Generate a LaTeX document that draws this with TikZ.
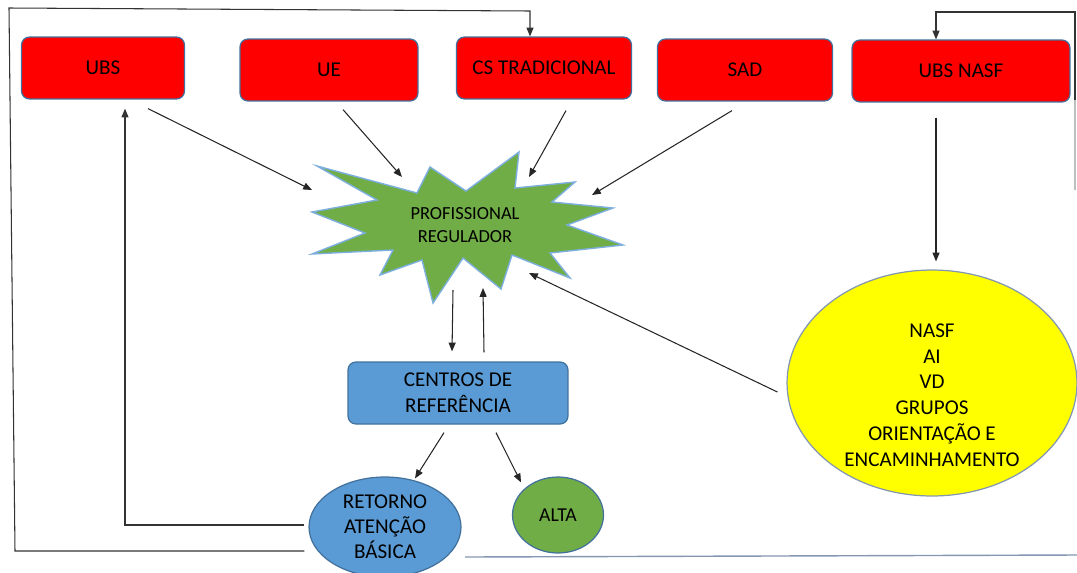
\documentclass[tikz,border=0pt]{standalone}
\usepackage{fontspec}
\setmainfont{Carlito}
\usetikzlibrary{arrows.meta,shapes.geometric,calc}

\definecolor{boxred}{HTML}{FF0000}
\definecolor{edgeblue}{HTML}{41719C}
\definecolor{refblue}{HTML}{5B9BD5}
\definecolor{leafgreen}{HTML}{70AD47}
\definecolor{brightyellow}{HTML}{FFFF00}
\definecolor{linegray}{HTML}{8497B0}

\tikzset{
	unit/.style={draw=edgeblue, line width=0.7pt, fill=boxred, rounded corners=4.5pt,
		minimum height=1.24cm, inner sep=0pt, font=\fontsize{12}{14.7}\selectfont},
	refbox/.style={draw=edgeblue, line width=0.7pt, fill=refblue, rounded corners=4.5pt,
		align=center, inner sep=0pt, font=\fontsize{12}{14.7}\selectfont},
	blob/.style={ellipse, draw=edgeblue, line width=0.7pt, inner sep=0pt, align=center},
	link/.style={-{Triangle[length=5pt,width=4pt]}, line width=0.6pt, black!85},
	loopline/.style={line width=0.6pt, black!80}
}

\begin{document}
\begin{tikzpicture}[x=0.02cm, y=-0.02cm]
		
		\useasboundingbox (0,0) rectangle (1077,572);
		
		% services at the top
		\node [unit, minimum width=3.26cm] (ubs) at (103,68) {UBS};
		\node [unit, minimum width=3.56cm] (ue) at (329,70) {UE};
		\node [unit, minimum width=3.5cm] (cs) at (544,68) {CS TRADICIONAL};
		\node [unit, minimum width=3.5cm] (sad) at (745,70) {SAD};
		\node [unit, minimum width=4.36cm] (nasf) at (961,71) {UBS NASF};
		
		% regulator star
		\filldraw [fill=leafgreen, draw=refblue!80, line width=0.8pt]
			(317,166) -- (417,193) -- (430,167) -- (466,191) -- (519,152) -- (515,188)
			-- (575,182) -- (552,202) -- (613,208) -- (567,225) -- (623,245) -- (550,253)
			-- (570,278) -- (512,255) -- (501,289) -- (463,258) -- (433,303) -- (422,260)
			-- (380,275) -- (393,250) -- (312,254) -- (365,233) -- (312,212) -- (377,200) -- cycle;
		\node [align=center, font=\fontsize{10.5}{13}\selectfont] (reg) at (465,225) {PROFISSIONAL\\REGULADOR};
		
		\node [refbox, minimum width=4.4cm, minimum height=1.24cm] (cref) at (458,393) {CENTROS DE\\REFERÊNCIA};
		\node [blob, fill=refblue, minimum width=3.04cm, minimum height=2cm,
			font=\fontsize{12}{14.2}\selectfont] (ret) at (385,527) {RETORNO\\ATENÇÃO\\BÁSICA};
		\node [blob, fill=leafgreen, minimum width=1.82cm, minimum height=1.52cm,
			font=\fontsize{11.2}{13}\selectfont] (alta) at (558,515) {ALTA};
		\node [blob, draw=linegray, fill=brightyellow, minimum width=5.8cm, minimum height=4.52cm] (grp) at (932,383) {};
		\node [align=center, font=\fontsize{12}{14.7}\selectfont] (grptxt) at (932,395)
			{NASF\\AI\\VD\\GRUPOS\\ORIENTAÇÃO E\\ENCAMINHAMENTO};
		
		% ends on the star
		\coordinate (regUBS) at (312,190);
		\coordinate (regUE) at (402,177);
		\coordinate (regCS) at (529,177);
		\coordinate (regSAD) at (592,195);
		\coordinate (regGRP) at (529,273);
		\coordinate (regDown) at (453,290);
		\coordinate (regUp) at (483,288);
		
		\draw [link] ($(ubs.south)+(45,9)$) -- (regUBS);
		\draw [link] ($(ue.south)+(14,8)$) -- (regUE);
		\draw [link] ($(cs.south)+(22,11)$) -- (regCS);
		\draw [link] ($(sad.south)+(-13,9)$) -- (regSAD);
		\draw [link] ($(nasf.south)+(-25,15)$) -- ($(grp.north)+(4,-8)$);
		\draw [link] ($(grp.west)+(-9,9)$) -- (regGRP);
		
		\draw [link] (regDown) -- ($(cref.north)+(-6,-10)$);
		\draw [link] ($(cref.north)+(26,-9)$) -- (regUp);
		
		\draw [link] ($(cref.south)+(-14,8)$) -- ($(ret.north)+(30,2)$);
		\draw [link] ($(cref.south)+(38,8)$) -- ($(alta.north)+(-37,6)$);
		
		% return loops
		\draw [link, loopline] ($(ret.west)+(-4,-2)$) -| ($(ubs.south)+(22,9)$);
		\draw [link, loopline] ($(ret.west)+(-4,24)$) -- (15,551) -- (9,8) -- (530,11) -- ($(cs.north)+(-14,0)$);
		\coordinate (nasfTail) at (1075,100);
		\draw [black!25, line width=0.6pt] (1075,190) -- (nasfTail);
		\draw [link, loopline] (nasfTail) -- (1075,12) -- (936,12) -- ($(nasf.north)+(-25,0)$);
		
		\draw [linegray, line width=0.8pt] (465,557) -- (1077,555);
		
		\end{tikzpicture}
\end{document}
